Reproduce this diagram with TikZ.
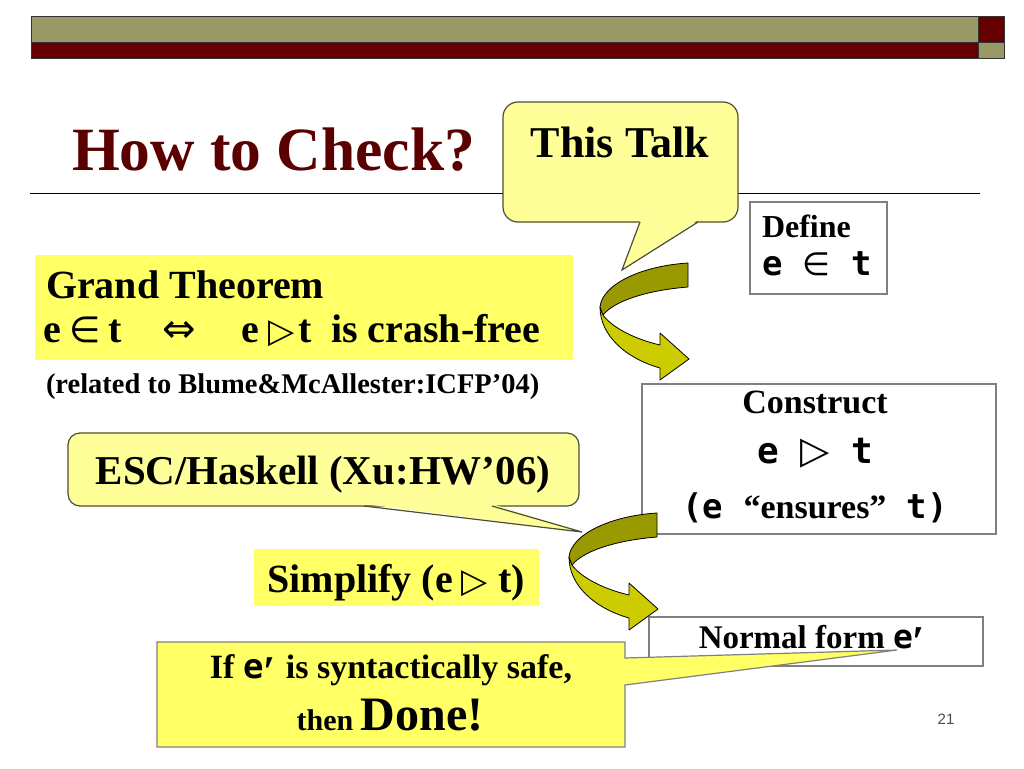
\documentclass[tikz,border=0pt]{standalone}
\usepackage{fontspec}
\setmainfont{Liberation Serif}
\newfontfamily\monof{DejaVu Sans Mono}
\newfontfamily\symf{DejaVu Sans}
\newfontfamily\sansf{Liberation Sans}
\newcommand{\fsz}[1]{\fontsize{#1}{#1}\selectfont}
\newcommand{\mtt}[1]{{\monof\bfseries #1}}
\newcommand{\myin}[1]{{\symf\mdseries\fontsize{#1}{#1}\selectfont ∈}}
\newcommand{\mytri}[1]{{\symf\mdseries\fontsize{#1}{#1}\selectfont ▷}}
\newcommand{\myiff}{{\symf\mdseries ⇔}}
\newcommand{\myprime}{{\bfseries\fontsize{44}{44}\selectfont\raisebox{-8pt}{′}}}
\definecolor{barol}{HTML}{999966}
\definecolor{barred}{HTML}{660000}
\definecolor{titlered}{HTML}{5A0000}
\definecolor{paley}{HTML}{FFFF99}
\definecolor{brighty}{HTML}{FFFF66}
\definecolor{darkol}{HTML}{999900}
\definecolor{brightol}{HTML}{CCCC00}
\definecolor{calloutline}{HTML}{4D4D33}
\definecolor{boxline}{HTML}{808080}
\tikzset{
  bardraw/.style={draw=black!80, line width=0.8},
  gbox/.style={fill=brighty, draw=none},
  wbox/.style={fill=white, draw=boxline, line width=1.2},
  rbox/.style={fill=paley, draw=calloutline, line width=1.2},
  tailfill/.style={fill=paley},
  tailline/.style={draw=calloutline, line width=1.2},
  gtxt/.style={anchor=base west, font=\fsz{40}\bfseries},
  ribbon/.pic={
    \draw[fill=brightol, draw=black, line width=0.8, line join=round]
      (-88,44) .. controls (-88,72) and (-63,95) .. (-28,105)
      -- (-28,117) -- (1,96) -- (-28,70) -- (-28,82)
      .. controls (-58,75) and (-78,62) .. (-85,52) -- cycle;
    \draw[fill=darkol, draw=black, line width=0.8, line join=round]
      (0,0) .. controls (-48,3) and (-86,22) .. (-88,44)
      -- (-85,52) .. controls (-73,37) and (-38,27) .. (0,24) -- cycle;
  }
}
\begin{document}
\begin{tikzpicture}[x=1pt,y=-1pt, every node/.style={inner sep=0pt, outer sep=0pt}]
\useasboundingbox (0,0) rectangle (1024,768);
\fill[white] (0,0) rectangle (1024,768);

% top bars
\draw[bardraw, fill=barol] (31,16) rectangle (978,42);
\draw[bardraw, fill=barred] (31,42) rectangle (978,58);
\draw[bardraw, fill=barred] (978,16) rectangle (1004,42);
\draw[bardraw, fill=barol] (978,42) rectangle (1004,58);

% title and rule
\node[anchor=base west, text=titlered, font=\fsz{61.5}\bfseries] (title) at (72,170) {How to Check?};
\coordinate (ruleL) at (30,193);
\coordinate (ruleR) at (980,193);
\draw[line width=1] (ruleL) -- (ruleR);

% Grand theorem
\node[gbox, minimum width=538, minimum height=105, anchor=north west] (gt) at (35,255) {};
\node[gtxt] (gt1) at (46,298) {Grand Theorem};
\node[gtxt] (gte1) at (43,342) {e};
\node[gtxt] (gtin) at (69,342) {\myin{36}};
\node[gtxt] (gtt1) at (108,342) {t};
\node[gtxt] (gtiff) at (162,342) {\myiff};
\node[gtxt] (gte2) at (241,342) {e};
\node[gtxt] (gttri) at (268,342) {\mytri{34}};
\node[gtxt] (gtt2) at (298,342) {t};
\node[gtxt] (gtrest) at (331,342) {is crash-free};
\node[anchor=base west, font=\fsz{28.5}\bfseries] (rel) at (46,393) {(related to Blume\&McAllester:ICFP’04)};

% Define box
\node[wbox, minimum width=137, minimum height=92, anchor=north west] (def) at (750,202) {};
\node[anchor=base west, font=\fsz{32}\bfseries] (def1) at (762,237) {Define};
\node[anchor=base west, font=\fsz{34}] (def2) at (762,275) {\mtt{e }\myin{32}\mtt{ t}};

% Construct box
\node[wbox, minimum width=354, minimum height=150, anchor=north west] (con) at (642,384) {};
\node[anchor=base, font=\fsz{34}\bfseries] (con1) at (815,413) {Construct};
\node[anchor=base, font=\fsz{36}] (con2) at (815,463) {\mtt{e }\mytri{38}\mtt{ t}};
\node[anchor=base, font=\fsz{34}\bfseries] (con3) at (815,518) {\mtt{(e }“ensures”\mtt{ t)}};

% Normal form box
\node[wbox, minimum width=334, minimum height=49, anchor=north west] (nf) at (649,617) {};
\node[anchor=base, font=\fsz{33}\bfseries] (nf1) at (812,648) {Normal form \mtt{e}\myprime};

% Simplify box
\node[gbox, minimum width=285, minimum height=57, anchor=north west] (simp) at (254,549) {};
\node[anchor=base, font=\fsz{40}\bfseries] (simp1) at (396,592) {Simplify (e\hspace{9pt}\mytri{34}\hspace{10pt}t)};

% This Talk callout
\node[rbox, rounded corners=15, minimum width=235, minimum height=120, anchor=north west] (talk) at (503,102) {};
\coordinate (talkA) at (640,222);
\coordinate (talkB) at (698,222);
\coordinate (talkTip) at (622,270);
\fill[tailfill] ([yshift=2]talkA) -- (talkTip) -- ([yshift=2]talkB) -- cycle;
\draw[tailline, line join=miter] (talkA) -- (talkTip) -- (talkB);
\node[anchor=base, font=\fsz{44}\bfseries] (talk1) at (620,157) {This Talk};

% ESC callout
\node[rbox, rounded corners=12, minimum width=511, minimum height=73, anchor=north west] (esc) at (68,433) {};
\coordinate (escA) at (364,506);
\coordinate (escB) at (492,506);
\coordinate (escTip) at (582,532);
\fill[tailfill] ([yshift=2]escA) -- (escTip) -- ([yshift=2]escB) -- cycle;
\draw[tailline] (escA) -- (escTip) -- (escB);
\node[anchor=base, font=\fsz{41}\bfseries] (esc1) at (323,484) {ESC/Haskell (Xu:HW’06)};

% bottom callout
\coordinate (doneTip) at (897,650);
\draw[fill=brighty, draw=boxline, line width=1.2]
  (157,642) -- (625,642) -- (625,658) -- (doneTip) -- (625,685) -- (625,747) -- (157,747) -- cycle;
\node[anchor=base, font=\fsz{34}\bfseries] (done1) at (391,678) {If \mtt{e}\myprime\hspace{10pt}is syntactically safe,};
\node[anchor=base, font=\fsz{30}\bfseries] (done2) at (390,730) {then {\fsz{48}Done!}};

% curved ribbon arrows
\pic at (688,263) {ribbon};
\pic at (657,513) {ribbon};

% page number
\node[anchor=base, font=\sansf\fsz{15}, text=black!70] (pg) at (946,724) {21};
\end{tikzpicture}
\end{document}
